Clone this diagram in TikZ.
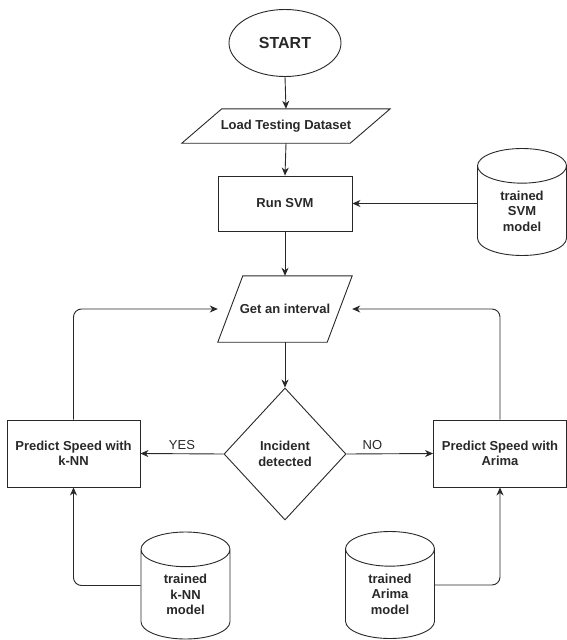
\documentclass[tikz,border=0pt]{standalone}
\usepackage{fontspec}
\setmainfont{Liberation Sans}
\usetikzlibrary{positioning, arrows.meta, shapes.geometric, calc}
\definecolor{ink}{RGB}{40,40,40}

\begin{document}
\begin{tikzpicture}[x=1pt, y=-1pt, font=\fontsize{13}{15.5}\selectfont\bfseries, text=ink,
  term/.style={ellipse, draw=ink, line width=0.9pt, minimum width=112pt, minimum height=67pt, font=\fontsize{16}{19}\selectfont\bfseries},
  inout/.style={rectangle, inner sep=0pt, align=center},
  slant/.style={draw=ink, line width=0.9pt, line join=miter},
  proc/.style={rectangle, draw=ink, line width=0.9pt, minimum width=133pt, minimum height=67pt, inner sep=0pt, align=center},
  dec/.style={diamond, draw=ink, line width=0.9pt, minimum width=122pt, minimum height=132pt, inner sep=0pt, align=center},
  db/.style={cylinder, shape border rotate=90, aspect=0.8, draw=ink, line width=0.9pt, minimum width=89pt, minimum height=107pt, inner sep=0pt, align=center, anchor=shape center},
  lbl/.style={font=\fontsize{13}{15.5}\selectfont, text=ink},
  ar/.style={-{Stealth[length=8pt, width=7pt, inset=2.5pt]}, line width=0.9pt, draw=ink},
  loop/.style={ar, rounded corners=8pt}]

\useasboundingbox (0,0) rectangle (567,640);

\node[term] at (285,43) (start) {START};
\node[inout, minimum width=208pt, minimum height=34pt] at (286,126) (load) {Load Testing Dataset};
\node[proc, minimum width=134pt, minimum height=55pt] at (285,203.5) (svm) {Run SVM};
\node[db] at (522,202) (svmdb) {trained\\ SVM\\ model};
\node[inout, minimum width=134pt, minimum height=66pt] at (285,309) (intv) {Get an interval};
\node[dec] at (285,454) (inc) {Incident\\ detected};
\node[proc] at (73.5,453.5) (knn) {Predict Speed with\\ k-NN};
\node[proc] at (500,453.5) (arima) {Predict Speed with\\ Arima};
\node[db] at (185.5,585.5) (knndb) {trained\\ k-NN\\ model};
\node[db] at (390,585) (arimadb) {trained\\ Arima\\ model};

% slanted input boxes
\draw[slant] (load.south west) -- ($(load.north west)+(40,0)$) -- (load.north east) -- ($(load.south east)+(-40,0)$) -- cycle;
\draw[slant] (intv.south west) -- ($(intv.north west)+(25,0)$) -- (intv.north east) -- ($(intv.south east)+(-25,0)$) -- cycle;

% main flow
\draw[ar] (start.south) -- (load.north);
\draw[ar] (load.south) -- (svm.north);
\draw[ar] (svm.east -| svmdb.west) -- (svm.east);
\draw[ar] (svm.south) -- (intv.north);
\draw[ar] (intv.south) -- (inc.north);

% decision
\draw[ar] (inc.west) -- node[lbl, above, pos=0.5]{YES} (knn.east);
\draw[ar] (inc.east) -- node[lbl, above, pos=0.3]{NO} (arima.west);

% back to the next interval
\draw[loop] (knn.north) |- (intv.west);
\draw[loop] (arima.north) |- (intv.east);

% trained models feed the predictions
\draw[loop] (knndb.west |- knndb.shape center) -| (knn.south);
\draw[loop] (arimadb.east |- arimadb.shape center) -| (arima.south);
\end{tikzpicture}
\end{document}
